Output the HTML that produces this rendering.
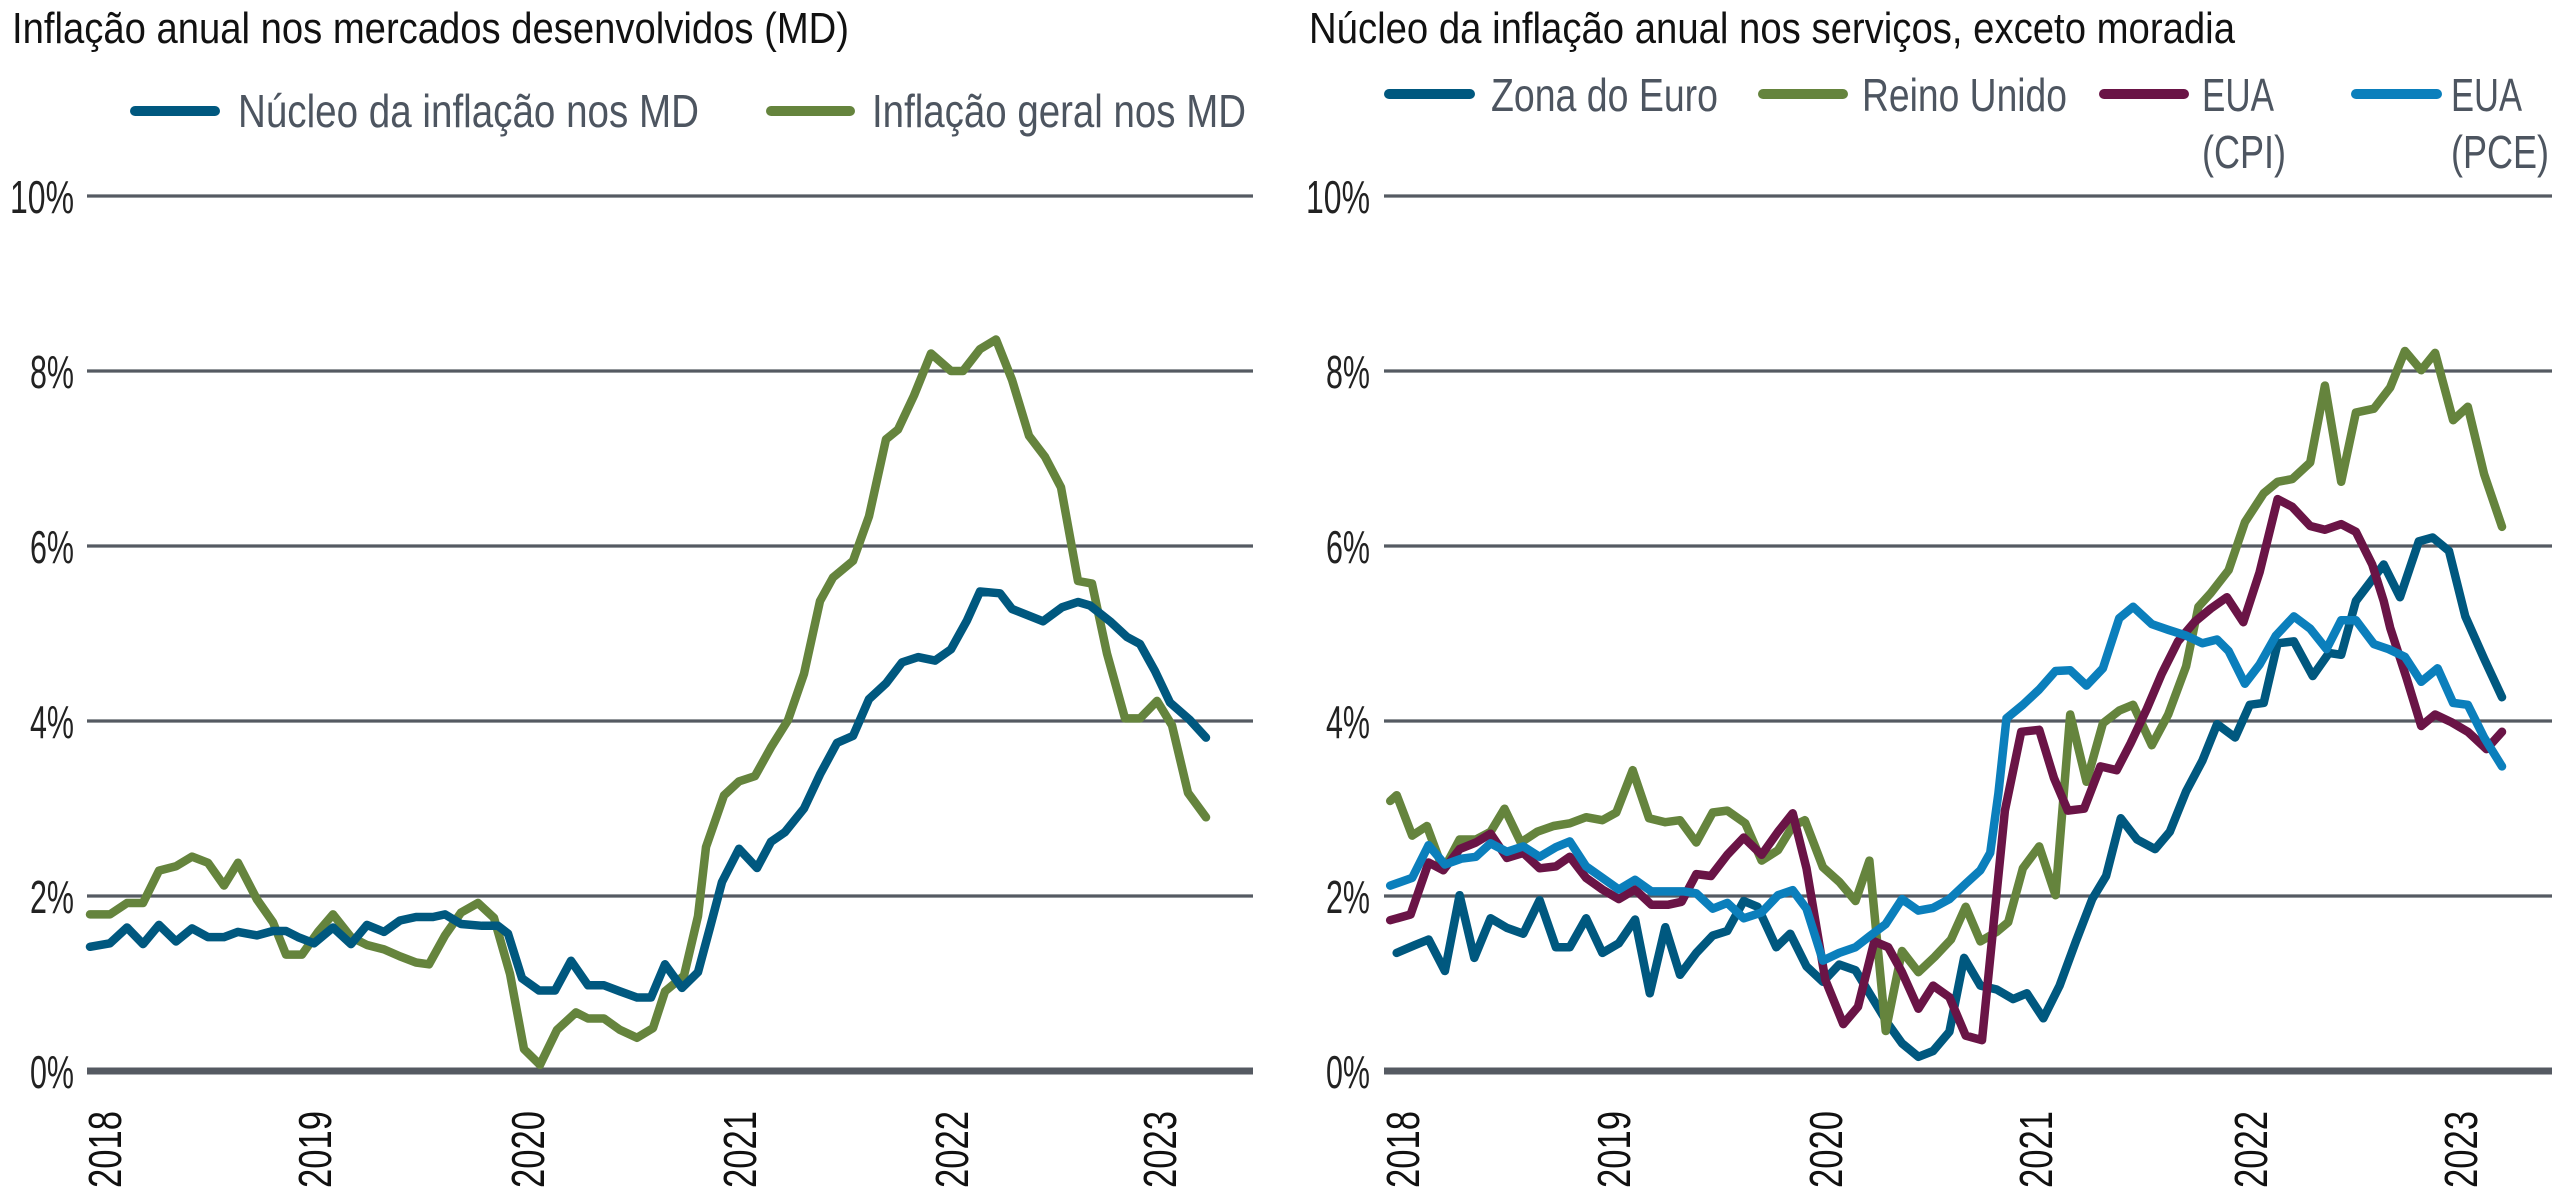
<!DOCTYPE html>
<html><head><meta charset="utf-8"><style>
html,body{margin:0;padding:0;background:#fff;}
svg{display:block;}
text{font-family:"Liberation Sans",sans-serif;}
</style></head><body>
<svg id="s" width="2560" height="1200" viewBox="0 0 2560 1200" xmlns="http://www.w3.org/2000/svg">
<rect width="2560" height="1200" fill="#fff"/>
<!-- titles -->
<text x="12" y="43" font-size="44" fill="#111" textLength="837" lengthAdjust="spacingAndGlyphs">Inflação anual nos mercados desenvolvidos (MD)</text>
<text x="1309" y="43" font-size="44" fill="#111" textLength="926" lengthAdjust="spacingAndGlyphs">Núcleo da inflação anual nos serviços, exceto moradia</text>
<!-- left legend -->
<line x1="135" y1="111" x2="215" y2="111" stroke="#00587f" stroke-width="10" stroke-linecap="round"/>
<text x="238" y="127" font-size="46" fill="#4d5560" textLength="461" lengthAdjust="spacingAndGlyphs">Núcleo da inflação nos MD</text>
<line x1="771" y1="111" x2="850" y2="111" stroke="#65843d" stroke-width="10" stroke-linecap="round"/>
<text x="872" y="127" font-size="46" fill="#4d5560" textLength="374" lengthAdjust="spacingAndGlyphs">Inflação geral nos MD</text>
<!-- right legend -->
<line x1="1389" y1="94" x2="1470" y2="94" stroke="#00587f" stroke-width="10" stroke-linecap="round"/>
<text x="1491" y="111" font-size="46" fill="#4d5560" textLength="227" lengthAdjust="spacingAndGlyphs">Zona do Euro</text>
<line x1="1763" y1="94" x2="1843" y2="94" stroke="#65843d" stroke-width="10" stroke-linecap="round"/>
<text x="1862" y="111" font-size="46" fill="#4d5560" textLength="205" lengthAdjust="spacingAndGlyphs">Reino Unido</text>
<line x1="2104" y1="94" x2="2184" y2="94" stroke="#6a1446" stroke-width="10" stroke-linecap="round"/>
<text x="2202" y="111" font-size="46" fill="#4d5560" textLength="72" lengthAdjust="spacingAndGlyphs">EUA</text>
<text x="2202" y="168" font-size="46" fill="#4d5560" textLength="84" lengthAdjust="spacingAndGlyphs">(CPI)</text>
<line x1="2356" y1="94" x2="2437" y2="94" stroke="#0b7fbc" stroke-width="10" stroke-linecap="round"/>
<text x="2451" y="111" font-size="46" fill="#4d5560" textLength="71" lengthAdjust="spacingAndGlyphs">EUA</text>
<text x="2451" y="168" font-size="46" fill="#4d5560" textLength="98" lengthAdjust="spacingAndGlyphs">(PCE)</text>
<g id="grid"></g>
<g id="series" fill="none" stroke-width="8.5" stroke-linejoin="round" stroke-linecap="round"></g>
</svg>
<script>
var NS="http://www.w3.org/2000/svg";
function el(p,tag,attrs,txt){var e=document.createElementNS(NS,tag);for(var k in attrs)e.setAttribute(k,attrs[k]);if(txt!==undefined)e.textContent=txt;p.appendChild(e);return e;}
var grid=document.getElementById('grid'),ser=document.getElementById('series');
function Y(v){return 1071-87.5*v;}
var tickW={10:64,8:44,6:44,4:44,2:44,0:44};
[[87,1253,74],[1384,2552,1370]].forEach(function(c){
  for(var v=0;v<=10;v+=2){
    el(grid,'line',{x1:c[0],x2:c[1],y1:Y(v),y2:Y(v),stroke:'#555a62','stroke-width':v==0?7:3.2});
    el(grid,'text',{x:c[2]-tickW[v],y:Y(v)+17,'font-size':46,fill:'#222',textLength:tickW[v],lengthAdjust:'spacingAndGlyphs'},v+'%');
  }
});
var years=['2018','2019','2020','2021','2022','2023'];
[[104,314,527,739,951,1159],[1402,1613,1825,2035,2250,2460]].forEach(function(xs){
  xs.forEach(function(x,i){
    var bx=x+17;
    el(grid,'text',{x:0,y:0,'font-size':46,fill:'#111',textLength:77,lengthAdjust:'spacingAndGlyphs',transform:'translate('+bx+',1188) rotate(-90)'},years[i]);
  });
});
function pathXV(pts,color){
  var d=pts.map(function(p,i){return (i?'L':'M')+p[0].toFixed(1)+' '+Y(p[1]).toFixed(1);}).join(' ');
  el(ser,'path',{d:d,stroke:color});
}
// left chart
var lGreen=[[90,1.79],[110,1.79],[127,1.92],[143,1.92],[159,2.29],[176,2.34],[192,2.45],[208,2.38],[224,2.12],[238,2.38],[257,1.96],[273,1.7],[286,1.33],[302,1.33],[318,1.59],[333,1.79],[351,1.53],[367,1.44],[384,1.39],[400,1.31],[416,1.24],[429,1.22],[445,1.55],[461,1.81],[478,1.92],[494,1.75],[510,1.11],[524,0.25],[540,0.07],[557,0.47],[576,0.67],[588,0.6],[604,0.6],[620,0.47],[637,0.38],[653,0.49],[665,0.91],[684,1.09],[698,1.77],[706,2.56],[724,3.15],[739,3.31],[755,3.37],[771,3.7],[788,4.01],[804,4.54],[820,5.37],[833,5.64],[853,5.83],[869,6.34],[886,7.22],[898,7.33],[914,7.72],[931,8.2],[951,8.0],[963,8.0],[980,8.25],[996,8.36],[1012,7.9],[1029,7.26],[1045,7.02],[1061,6.67],[1078,5.6],[1092,5.57],[1107,4.77],[1125,4.03],[1140,4.03],[1157,4.23],[1172,3.95],[1188,3.18],[1206,2.9]];
var lBlue=[[90,1.42],[110,1.46],[127,1.64],[143,1.45],[159,1.67],[176,1.48],[192,1.63],[208,1.53],[224,1.53],[238,1.59],[257,1.55],[273,1.6],[286,1.6],[298,1.53],[314,1.46],[333,1.64],[351,1.45],[367,1.67],[384,1.59],[400,1.72],[416,1.76],[433,1.76],[445,1.79],[461,1.68],[482,1.66],[498,1.66],[508,1.57],[522,1.06],[539,0.92],[555,0.92],[571,1.26],[588,0.98],[604,0.98],[620,0.91],[637,0.84],[651,0.84],[665,1.22],[682,0.95],[698,1.13],[710,1.64],[722,2.16],[739,2.54],[757,2.32],[771,2.62],[785,2.73],[804,3.0],[820,3.39],[837,3.75],[853,3.83],[869,4.25],[886,4.43],[902,4.67],[918,4.73],[935,4.69],[951,4.82],[967,5.15],[980,5.48],[1000,5.46],[1012,5.28],[1043,5.14],[1062,5.3],[1078,5.36],[1090,5.32],[1110,5.14],[1127,4.96],[1140,4.88],[1155,4.57],[1170,4.21],[1190,4.01],[1206,3.81]];
pathXV(lGreen,'#65843d');
pathXV(lBlue,'#00587f');
// right chart (zoom coords)
function Z(arr){return arr.map(function(p){return [1280+p[0]/1.225,(1222-p[1])/227.5];});}
var rGreen=[[135,520],[143,505],[162,610],[180,585],[200,700],[220,620],[240,620],[258,600],[275,540],[295,628],[315,600],[335,585],[355,578],[375,562],[395,570],[412,550],[432,440],[452,565],[472,575],[490,570],[510,628],[530,550],[548,545],[570,578],[590,675],[610,648],[628,585],[643,570],[665,692],[685,730],[705,780],[722,675],[742,1118],[762,910],[782,965],[802,925],[822,880],[840,795],[858,885],[878,860],[892,835],[910,695],[930,638],[950,765],[968,295],[988,470],[1008,318],[1028,285],[1045,270],[1068,375],[1088,295],[1110,170],[1125,15],[1140,-20],[1162,-80],[1182,-205],[1205,-280],[1222,-310],[1240,-317],[1262,-360],[1280,-560],[1300,-310],[1318,-490],[1340,-500],[1360,-555],[1378,-650],[1398,-600],[1415,-645],[1437,-470],[1455,-505],[1475,-330],[1497,-193]];
var rEuro=[[143,915],[165,895],[182,880],[202,962],[220,765],[238,928],[258,825],[278,850],[298,865],[318,778],[338,900],[355,900],[375,825],[395,915],[415,890],[435,828],[453,1020],[472,848],[490,972],[510,915],[530,870],[548,858],[568,780],[585,795],[608,900],[625,865],[645,950],[665,990],[685,945],[705,960],[725,1030],[745,1100],[762,1150],[782,1185],[800,1170],[820,1120],[838,928],[858,1000],[878,1010],[898,1035],[915,1020],[935,1085],[955,1000],[975,885],[995,775],[1012,715],[1030,565],[1050,620],[1072,645],[1090,600],[1110,495],[1130,415],[1148,320],[1170,355],[1188,270],[1205,265],[1222,110],[1242,105],[1265,195],[1285,135],[1300,140],[1318,0],[1352,-95],[1372,-10],[1395,-155],[1412,-165],[1432,-130],[1452,40],[1475,150],[1497,250]];
var rCPI=[[135,830],[160,815],[182,680],[200,700],[220,645],[240,628],[258,605],[278,668],[298,655],[318,695],[338,690],[355,665],[375,720],[395,750],[415,775],[435,750],[455,790],[475,790],[492,782],[510,710],[528,715],[548,660],[568,615],[590,660],[610,600],[628,552],[645,695],[668,985],[690,1100],[708,1055],[728,885],[745,900],[762,965],[782,1060],[800,1000],[820,1030],[840,1130],[860,1142],[888,545],[908,340],[930,335],[948,460],[965,545],[985,540],[1005,430],[1025,440],[1042,370],[1062,280],[1080,190],[1100,105],[1120,55],[1140,20],[1160,-10],[1180,55],[1200,-75],[1222,-265],[1240,-245],[1262,-195],[1280,-185],[1300,-200],[1318,-180],[1338,-95],[1352,0],[1360,70],[1380,200],[1398,325],[1415,295],[1435,315],[1455,340],[1478,385],[1497,340]];
var rPCE=[[135,740],[162,720],[182,635],[202,685],[222,670],[240,665],[258,630],[278,652],[298,638],[318,665],[338,640],[355,625],[375,690],[395,720],[415,750],[435,725],[455,755],[475,755],[495,755],[510,760],[530,800],[548,785],[568,825],[590,810],[610,765],[628,752],[645,800],[665,935],[685,915],[705,900],[722,872],[742,840],[762,775],[782,805],[800,798],[820,775],[840,735],[858,700],[870,655],[880,500],[890,305],[910,270],[930,230],[950,182],[968,180],[988,220],[1008,175],[1028,45],[1045,15],[1068,60],[1088,75],[1110,90],[1130,110],[1148,100],[1162,130],[1182,215],[1200,165],[1220,90],[1242,40],[1262,72],[1282,125],[1300,50],[1318,50],[1340,112],[1358,125],[1378,145],[1398,210],[1418,175],[1437,265],[1455,270],[1475,355],[1497,430]];
pathXV(Z(rEuro),'#00587f');
pathXV(Z(rGreen),'#65843d');
pathXV(Z(rCPI),'#6a1446');
pathXV(Z(rPCE),'#0b7fbc');
</script>
</body></html>
